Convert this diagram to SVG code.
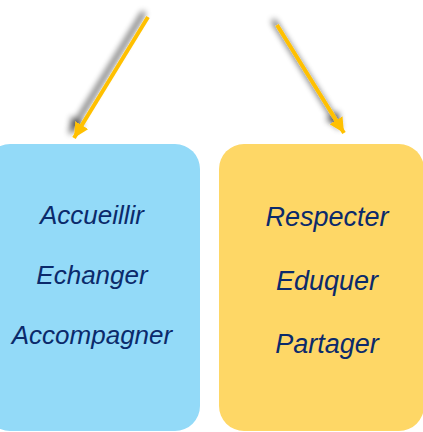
<svg xmlns="http://www.w3.org/2000/svg" width="423" height="432" viewBox="0 0 423 432">
<style>
.lbl{font-family:"Liberation Sans",Arial,sans-serif;font-style:italic;font-size:26px;fill:#0B2A6B;text-anchor:middle}
.lbl.r{font-size:27px}
.arrow{stroke:#FFC000;stroke-width:4;fill:none;marker-end:url(#head)}
</style>
<defs>
<marker id="head" markerUnits="userSpaceOnUse" markerWidth="18" markerHeight="16" refX="15" refY="7.5" orient="auto">
<path d="M0,0 L15,7.5 L0,15 Z" fill="#FFC000"/>
</marker>
<filter id="sh" x="-50%" y="-50%" width="200%" height="200%">
<feGaussianBlur in="SourceAlpha" stdDeviation="3"/>
<feOffset dx="-4" dy="-5" result="b"/>
<feComponentTransfer><feFuncA type="linear" slope="0.7"/></feComponentTransfer>
<feMerge><feMergeNode/><feMergeNode in="SourceGraphic"/></feMerge>
</filter>
</defs>
<rect width="423" height="432" fill="#FFFFFF"/>
<g id="box-left">
<rect x="-15" y="144" width="215" height="287" rx="25" fill="#93DAF8"/>
<text class="lbl" x="92" y="224">Accueillir</text>
<text class="lbl" x="92" y="284">Echanger</text>
<text class="lbl" x="92" y="344">Accompagner</text>
</g>
<g id="box-right">
<rect x="219" y="144" width="205" height="287" rx="25" fill="#FED766"/>
<text class="lbl r" x="327" y="226">Respecter</text>
<text class="lbl r" x="327" y="290">Eduquer</text>
<text class="lbl r" x="327" y="353">Partager</text>
</g>
<g id="connectors" filter="url(#sh)">
<line class="arrow" x1="148" y1="17" x2="74" y2="138"/>
<line class="arrow" x1="277" y1="25" x2="344" y2="133"/>
</g>
</svg>
